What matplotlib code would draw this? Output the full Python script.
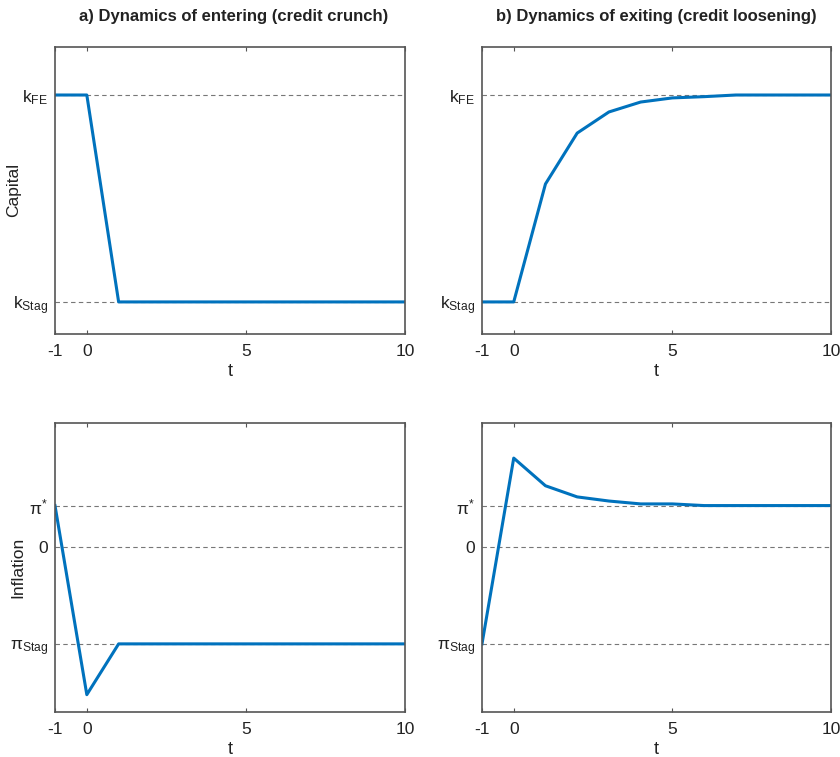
import numpy as np
import matplotlib
matplotlib.use("Agg")
import matplotlib.pyplot as plt

plt.rcParams['font.family'] = ['Liberation Sans', 'DejaVu Sans']
plt.rcParams['mathtext.fontset'] = 'custom'
plt.rcParams['mathtext.rm'] = 'Liberation Sans'
plt.rcParams['mathtext.it'] = 'Liberation Sans:italic'

# time axis
t = np.arange(-1, 11)

# capital (k_Stag = 0, k_FE = 1)
k_stag = 0.0
k_fe = 1.0
k_enter = [1.0, 1.0, 0.0, 0.0, 0.0, 0.0, 0.0, 0.0, 0.0, 0.0, 0.0, 0.0]
k_exit = [0.0, 0.0, 0.57, 0.816, 0.918, 0.966, 0.986, 0.992, 1.0, 1.0, 1.0, 1.0]

# inflation (pi* = 1)
pi_star = 1.0
pi_zero = 0.0
pi_stag = -2.35
pi_enter = [1.0, -3.58, -2.35, -2.35, -2.35, -2.35, -2.35, -2.35, -2.35, -2.35, -2.35, -2.35]
pi_exit = [-2.35, 2.15, 1.48, 1.21, 1.11, 1.04, 1.04, 1.0, 1.0, 1.0, 1.0, 1.0]

titles = ['a) Dynamics of entering (credit crunch)',
          'b) Dynamics of exiting (credit loosening)']

blue = '#0072BD'
edge = '#555555'
dash = '#777777'
txt = '#222222'

fig = plt.figure(figsize=(8.4, 7.57), dpi=100)
W, H = 840.0, 757.0
boxes = [(55, 47, 405, 334), (482, 47, 831, 334),
         (55, 423, 405, 712), (482, 423, 831, 712)]
axes = []
for (x0, y0, x1, y1) in boxes:
    ax = fig.add_axes([x0 / W, 1 - y1 / H, (x1 - x0) / W, (y1 - y0) / H])
    axes.append(ax)


def style(ax):
    ax.set_xlim(-1, 10)
    ax.set_xticks([-1, 0, 5, 10])
    ax.set_xticklabels(['-1', '0', '5', '10'])
    ax.tick_params(direction='in', length=3, width=0.8, colors=edge,
                   labelcolor=txt, labelsize=12.5, top=True, right=False,
                   pad=7)
    ax.tick_params(axis='y', length=0, pad=5)
    for s in ax.spines.values():
        s.set_color(edge)
        s.set_linewidth(1.2)
    ax.set_xlabel('t', fontsize=13, color=txt, labelpad=3)


# capital panels
for ax, k in zip(axes[:2], [k_enter, k_exit]):
    for lvl in (k_fe, k_stag):
        ax.axhline(lvl, color=dash, ls=(0, (4, 3)), lw=0.8, zorder=1)
    ax.plot(t, k, color=blue, lw=2.2, zorder=2)
    ax.set_ylim(-0.155, 1.232)
    ax.set_yticks([k_stag, k_fe])
    ax.set_yticklabels(['k$_{\\mathrm{Stag}}$', 'k$_{\\mathrm{FE}}$'])
    style(ax)

# inflation panels
for ax, p in zip(axes[2:], [pi_enter, pi_exit]):
    for lvl in (pi_star, pi_zero, pi_stag):
        ax.axhline(lvl, color=dash, ls=(0, (4, 3)), lw=0.8, zorder=1)
    ax.plot(t, p, color=blue, lw=2.2, zorder=2)
    ax.set_ylim(-4.0, 3.0)
    ax.set_yticks([pi_stag, pi_zero, pi_star])
    ax.set_yticklabels(['\u03c0$_{\\mathrm{Stag}}$', '0', '\u03c0$^{*}$'])
    style(ax)

fig.text(234 / W, 1 - 17 / H, titles[0], fontsize=12, fontweight='bold',
         ha='center', va='center', color=txt)
fig.text(656 / W, 1 - 17 / H, titles[1], fontsize=12, fontweight='bold',
         ha='center', va='center', color=txt)
fig.text(14 / W, 1 - 190 / H, 'Capital', fontsize=12.5, rotation=90,
         ha='center', va='center', color=txt)
fig.text(18 / W, 1 - 567 / H, 'Inflation', fontsize=12.5, rotation=90,
         ha='center', va='center', color=txt)

fig.savefig('out.png', dpi=100, facecolor='w')
